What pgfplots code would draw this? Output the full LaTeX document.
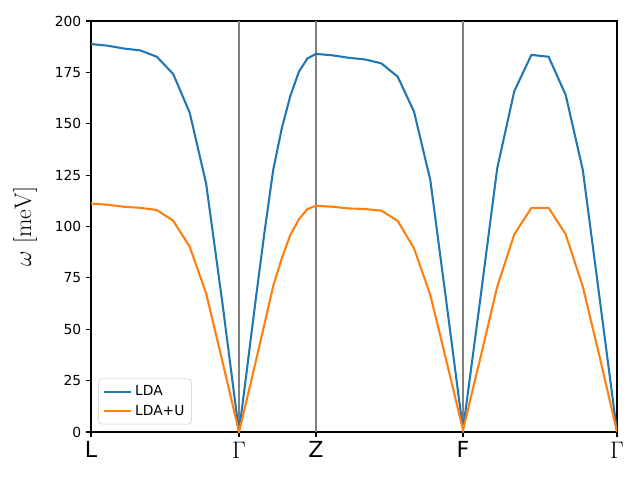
\documentclass[border=0pt]{standalone}
\usepackage[no-math]{fontspec}
\setmainfont{DejaVu Sans}
\usepackage{pgfplots}
\pgfplotsset{compat=1.18}
\definecolor{tabblue}{HTML}{1F77B4}
\definecolor{taborange}{HTML}{FF7F0E}
\begin{document}
\begin{tikzpicture}
\path[use as bounding box] (-0.91in,-0.48in) rectangle (5.49in,4.32in);
\begin{axis}[
  at={(0,0)}, anchor=south west,
  scale only axis, width=5.26in, height=4.11in,
  xmin=0, xmax=526, ymin=0, ymax=200,
  xtick={0,148,225,372,526},
  xticklabels={L,$\Gamma$,Z,F,$\Gamma$},
  ytick={0,25,50,75,100,125,150,175,200},
  xtick pos=bottom, ytick pos=left,
  tick align=outside, major tick length=3.5pt,
  tick style={black, line width=0.8pt},
  axis line style={line width=0.8pt},
  xticklabel style={font=\fontsize{16}{19}\selectfont},
  yticklabel style={font=\fontsize{10}{12}\selectfont},
  /pgf/number format/assume math mode=true,
  ylabel={$\omega\ [\mathrm{meV}]$},
  ylabel style={at={(axis description cs:-0.093,0.5)}, anchor=south, font=\fontsize{16}{19}\selectfont},
  legend style={at={(axis description cs:0.0139,0.0187)}, anchor=south west,
    draw=black!20, rounded corners=2pt, font=\fontsize{10}{12}\selectfont,
    row sep=1pt, inner sep=3pt},
  legend cell align=left,
  legend image code/.code={\draw[#1] (0cm,0cm) -- (0.7cm,0cm);},
]
\addplot[gray, line width=0.9pt, forget plot] coordinates {(148,0) (148,200)};
\addplot[gray, line width=0.9pt, forget plot] coordinates {(225,0) (225,200)};
\addplot[gray, line width=0.9pt, forget plot] coordinates {(372,0) (372,200)};
\addplot[tabblue, line width=1.5pt] coordinates {
(0,188.8) (16.4,188.0) (32.9,186.6) (49.3,185.7) (65.8,182.6) (82.2,174.2) (98.7,155.4) (115.1,121.0) (131.6,62) (148,0)
(156.6,33) (165.1,66) (173.7,98) (182.2,127.5) (190.8,147.8) (199.3,163.5) (207.9,175.3) (216.4,181.8) (225,184.0)
(241.3,183.3) (257.7,182.1) (274,181.3) (290.3,179.4) (306.7,172.9) (323,155.9) (339.3,122.6) (355.7,62) (372,1)
(389.1,64) (406.2,128.3) (423.3,165.9) (440.4,183.5) (457.6,182.6) (474.7,164.0) (491.8,127.5) (508.9,64) (526,0)
};
\addlegendentry{LDA}
\addplot[taborange, line width=1.5pt] coordinates {
(0,111.2) (16.4,110.6) (32.9,109.6) (49.3,109.1) (65.8,108.0) (82.2,102.8) (98.7,90.2) (115.1,67.5) (131.6,34) (148,0)
(156.6,17.5) (165.1,35) (173.7,53) (182.2,71) (190.8,84.5) (199.3,95.9) (207.9,103.5) (216.4,108.5) (225,110.1)
(241.3,109.6) (257.7,108.8) (274,108.5) (290.3,107.7) (306.7,102.7) (323,89.4) (339.3,66.7) (355.7,34) (372,1)
(389.1,35.5) (406.2,70.7) (423.3,96.2) (440.4,109.1) (457.6,109.1) (474.7,96.2) (491.8,70.7) (508.9,36) (526,0)
};
\addlegendentry{LDA+U}
\end{axis}
\end{tikzpicture}
\end{document}
